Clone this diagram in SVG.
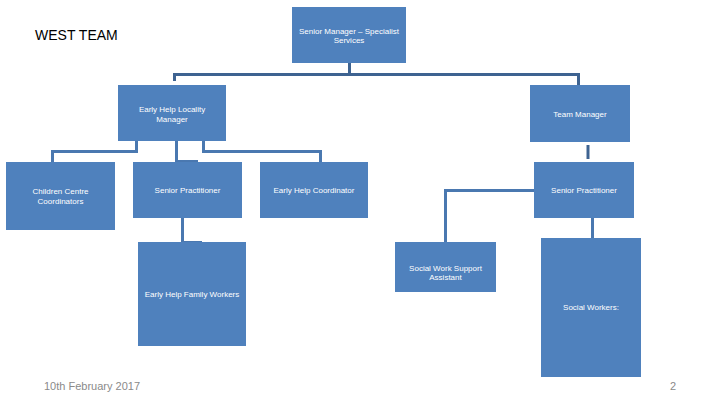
<svg xmlns="http://www.w3.org/2000/svg" width="720" height="405" viewBox="0 0 720 405">
<style>
.box{fill:#4F81BD}
.t{font-family:"Liberation Sans",Arial,sans-serif;font-size:8px;fill:#FFFFFF;text-anchor:middle}
.dk{fill:none;stroke:#3E6391;stroke-width:3}
.lt{fill:none;stroke:#4A78B0;stroke-width:3}
</style>
<rect width="720" height="405" fill="#FFFFFF"/>
<text x="35" y="40" font-family="Liberation Sans,Arial,sans-serif" font-size="14" fill="#000">WEST TEAM</text>
<g id="connectors">
<path class="dk" d="M349.5 63V74.5M174.5 81V74.5H578.5V85"/>
<path class="dk" d="M588 145V159"/>
<path class="lt" d="M136.5 141V151.5H52.5V162"/>
<path class="lt" d="M176.5 141V161.5H198"/>
<path class="lt" d="M203.5 141V151.5H320.5V162"/>
<path class="lt" d="M182.5 218V242.5H202"/>
<path class="lt" d="M534 190.5H445.5V242"/>
<path class="lt" d="M592.5 218V240.5H575"/>
</g>
<g id="senior-manager"><rect class="box" x="292" y="7" width="114" height="56"/><text class="t" x="349" y="34">Senior Manager – Specialist</text><text class="t" x="349" y="43">Services</text></g>
<g id="ehlm"><rect class="box" x="118" y="85" width="108" height="56"/><text class="t" x="172" y="112">Early Help Locality</text><text class="t" x="172" y="122">Manager</text></g>
<g id="team-manager"><rect class="box" x="530" y="85" width="100" height="57"/><text class="t" x="580" y="117">Team Manager</text></g>
<g id="ccc"><rect class="box" x="6" y="162" width="109" height="68"/><text class="t" x="60.5" y="194">Children Centre</text><text class="t" x="60.5" y="204">Coordinators</text></g>
<g id="sp-left"><rect class="box" x="133" y="162" width="109" height="56"/><text class="t" x="187.5" y="193">Senior Practitioner</text></g>
<g id="ehc"><rect class="box" x="260" y="162" width="108" height="56"/><text class="t" x="314" y="193">Early Help Coordinator</text></g>
<g id="sp-right"><rect class="box" x="534" y="162" width="100" height="56"/><text class="t" x="584" y="193">Senior Practitioner</text></g>
<g id="ehfw"><rect class="box" x="138" y="242" width="108" height="104"/><text class="t" x="192" y="297">Early Help Family Workers</text></g>
<g id="swsa"><rect class="box" x="395" y="242" width="101" height="50"/><text class="t" x="445.5" y="271">Social Work Support</text><text class="t" x="445.5" y="280">Assistant</text></g>
<g id="sw"><rect class="box" x="541" y="238" width="100" height="139"/><text class="t" x="591" y="310">Social Workers:</text></g>
<text x="44" y="390" font-family="Liberation Sans,Arial,sans-serif" font-size="11" fill="#8A8A8A">10th February 2017</text>
<text x="673" y="390" font-family="Liberation Sans,Arial,sans-serif" font-size="11" fill="#8A8A8A" text-anchor="middle">2</text>
</svg>
